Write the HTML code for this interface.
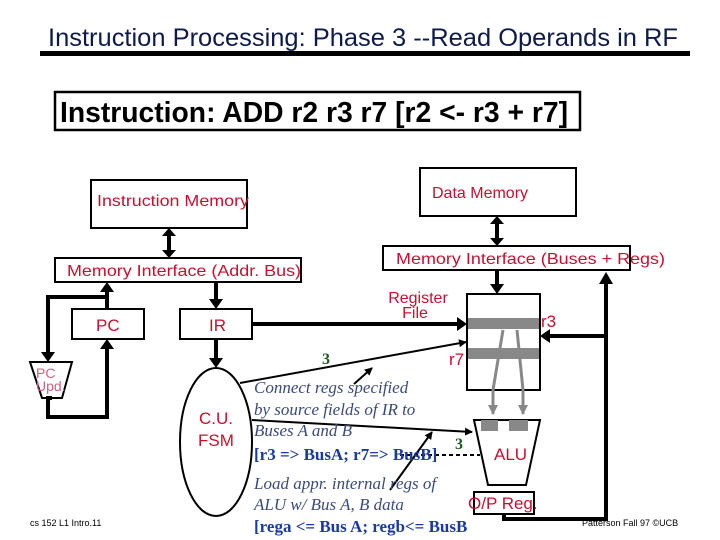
<!DOCTYPE html>
<html><head><meta charset="utf-8"><style>
html,body{margin:0;padding:0;background:#fff;}
svg{display:block;}
.s{font-family:"Liberation Sans",Arial,sans-serif;}
.r{fill:#c8102e;}
.i{font-family:"Liberation Serif",serif;font-style:italic;fill:#3a4a7a;font-size:17px;}
.b{font-family:"Liberation Serif",serif;font-weight:bold;fill:#1a3aa0;font-size:17px;}
</style></head><body>
<svg width="720" height="540" viewBox="0 0 720 540" xmlns="http://www.w3.org/2000/svg">
<defs>
<marker id="a" markerWidth="8" markerHeight="8" refX="7" refY="4" orient="auto" markerUnits="userSpaceOnUse"><path d="M0,0 L8,4 L0,8 z" fill="#000"/></marker>
<marker id="ag" markerWidth="10" markerHeight="10" refX="9" refY="5" orient="auto" markerUnits="userSpaceOnUse"><path d="M0,0 L10,5 L0,10 z" fill="#888"/></marker>
</defs>
<text class="s" x="48" y="46" font-size="25" fill="#0d1a4a" textLength="630" lengthAdjust="spacingAndGlyphs">Instruction Processing: Phase 3 --Read Operands in RF</text>
<rect x="40" y="51" width="650" height="5" fill="#000"/>
<rect x="55" y="92" width="525" height="38" fill="none" stroke="#000" stroke-width="2.5"/>
<text class="s" x="60" y="122" font-size="29" font-weight="bold" fill="#000" textLength="508" lengthAdjust="spacingAndGlyphs">Instruction: ADD r2 r3 r7  [r2 &lt;- r3 + r7]</text>

<g stroke="#000" stroke-width="2" fill="none">
<rect x="91" y="180" width="156" height="48"/>
<rect x="55" y="258" width="246" height="24"/>
<rect x="72" y="309" width="72" height="30"/>
<rect x="180" y="309" width="72" height="30"/>
<rect x="420" y="168" width="156" height="48"/>
<rect x="383" y="246" width="247" height="24"/>
<rect x="467" y="294" width="73" height="96"/>
<rect x="474" y="492" width="60" height="22"/>
<ellipse cx="216" cy="442" rx="36" ry="74"/>
<path d="M30,362 L72,362 L62,398 L42,398 Z"/>
<path d="M474,420 L540,420 L526,485 L488,485 Z"/>
</g>
<rect x="468" y="318" width="71" height="11" fill="#888"/>
<rect x="468" y="348" width="71" height="11" fill="#888"/>
<rect x="481" y="420" width="17" height="11" fill="#888"/>
<rect x="509" y="420" width="19" height="11" fill="#888"/>

<g stroke="#000" stroke-width="4" fill="none">
<line x1="169" y1="236" x2="169" y2="250"/>
<line x1="497" y1="224" x2="497" y2="238"/>
<polyline points="107,309 107,290"/>
<polyline points="107,297 48,297 48,354"/>
<polyline points="52,398 48,398 48,417 107,417 107,347"/>
<line x1="216" y1="282" x2="216" y2="301"/>
<line x1="216" y1="339" x2="216" y2="360"/>
<line x1="497" y1="270" x2="497" y2="286"/>
<line x1="252" y1="324" x2="459" y2="324"/>
<polyline points="504,514 504,519 606,519 606,282"/>
<line x1="606" y1="336" x2="548" y2="336"/>
</g>
<g fill="#000">
<path d="M162,236 L176,236 L169,228 Z"/><path d="M162,250 L176,250 L169,258 Z"/>
<path d="M490,224 L504,224 L497,216 Z"/><path d="M490,238 L504,238 L497,246 Z"/>
<path d="M100,292 L114,292 L107,282 Z"/>
<path d="M41,352 L55,352 L48,362 Z"/>
<path d="M100,349 L114,349 L107,339 Z"/>
<path d="M209,299 L223,299 L216,309 Z"/>
<path d="M209,358 L223,358 L216,368 Z"/>
<path d="M490,284 L504,284 L497,294 Z"/>
<path d="M457,317 L457,331 L467,324 Z"/>
<path d="M599,284 L613,284 L606,272 Z"/>
<path d="M550,329 L550,343 L540,336 Z"/>
</g>
<g stroke="#000" stroke-width="2" fill="none">
<line x1="240" y1="383" x2="466" y2="342" marker-end="url(#a)"/>
<line x1="252" y1="420" x2="472" y2="432" marker-end="url(#a)"/>
<line x1="354" y1="384" x2="372" y2="368" marker-end="url(#a)"/>
<line x1="390" y1="490" x2="432" y2="432" marker-end="url(#a)"/>
<line x1="400" y1="455" x2="480" y2="455" stroke-dasharray="4,3"/>
</g>
<g stroke="#888" stroke-width="3" fill="none">
<polyline points="503,330 493,390 493,414" marker-end="url(#ag)"/>
<polyline points="517,330 523,390 523,414" marker-end="url(#ag)"/>
</g>

<g class="s r" font-size="16">
<text x="97" y="206" textLength="152" lengthAdjust="spacingAndGlyphs">Instruction Memory</text>
<text x="67" y="276" textLength="234" lengthAdjust="spacingAndGlyphs">Memory Interface (Addr. Bus)</text>
<text x="96" y="331" font-size="17">PC</text>
<text x="209" y="331" font-size="17">IR</text>
<text x="36" y="378" font-size="14" fill="#d06080">PC</text>
<text x="36" y="391" font-size="14" fill="#d06080">Upd.</text>
<text x="216" y="424" font-size="17" text-anchor="middle">C.U.</text>
<text x="216" y="446" font-size="17" text-anchor="middle">FSM</text>
<text x="432" y="198">Data Memory</text>
<text x="396" y="264" textLength="269" lengthAdjust="spacingAndGlyphs">Memory Interface (Buses + Regs)</text>
<text x="418" y="303" text-anchor="middle">Register</text>
<text x="415" y="318" text-anchor="middle">File</text>
<text x="541" y="327" font-size="17">r3</text>
<text x="449" y="365" font-size="17">r7</text>
<text x="494" y="460" font-size="17">ALU</text>
<text x="468" y="509" font-size="17">O/P Reg.</text>
</g>
<text x="322" y="364" font-family="Liberation Serif,serif" font-weight="bold" font-size="16" fill="#1a5a1a">3</text>
<text x="455" y="449" font-family="Liberation Serif,serif" font-weight="bold" font-size="16" fill="#1a5a1a">3</text>
<text class="i" x="254" y="393">Connect regs specified</text>
<text class="i" x="254" y="415">by source fields of IR to</text>
<text class="i" x="254" y="436">Buses A and B</text>
<text class="b" x="254" y="460">[r3 =&gt; BusA; r7=&gt; BusB]</text>
<text class="i" x="254" y="489">Load appr. internal regs of</text>
<text class="i" x="254" y="510">ALU w/ Bus A, B data</text>
<text class="b" x="254" y="532">[rega &lt;= Bus A; regb&lt;= BusB</text>
<text class="s" x="30" y="526" font-size="9" fill="#000">cs 152  L1 Intro.11</text>
<text class="s" x="582" y="526" font-size="9" fill="#000">Patterson Fall 97  ©UCB</text>
</svg>
</body></html>
